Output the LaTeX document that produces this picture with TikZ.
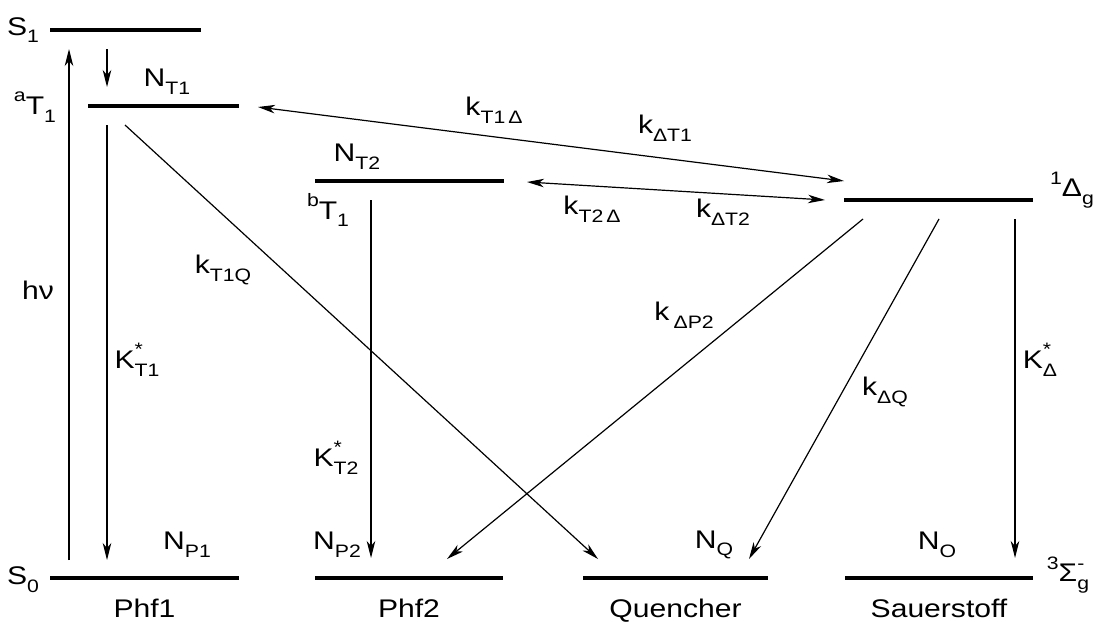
\documentclass[tikz,border=0pt]{standalone}
\usepackage{fontspec}
\setmainfont{Liberation Sans}[FakeStretch=1.18]
\usetikzlibrary{arrows.meta}
\newcommand\lo[1]{\raisebox{-0.3em}{\fontsize{18}{20}\selectfont #1}}
\newcommand\hi[1]{\raisebox{0.5em}{\fontsize{18}{20}\selectfont #1}}
\newcommand\hilo[2]{\rlap{\hi{#1}}\lo{#2}}
\begin{document}
\begin{tikzpicture}[x=1pt,y=-1pt,
  >={Stealth[length=17pt,width=8.5pt,inset=5pt]},
  lvl/.style={line width=4pt},
  conn/.style={line width=1.2pt},
  lab/.style={font=\fontsize{25.5}{30}\selectfont, inner sep=0pt},
]
\useasboundingbox (0,0) rectangle (1102,621);
% levels
\coordinate (S1a) at (50,30);   \coordinate (S1b) at (201,30);
\coordinate (T1a) at (88,106);  \coordinate (T1b) at (239,106);
\coordinate (T2a) at (315,181); \coordinate (T2b) at (504,181);
\coordinate (Da) at (844,200);  \coordinate (Db) at (1033,200);
\coordinate (P1a) at (50,578);  \coordinate (P1b) at (239,578);
\coordinate (P2a) at (315,578); \coordinate (P2b) at (503,578);
\coordinate (Qa) at (583,578);  \coordinate (Qb) at (768,578);
\coordinate (Oa) at (845,578);  \coordinate (Ob) at (1033,578);
\foreach \l in {S1,T1,T2,D,P1,P2,Q,O} \draw[lvl] (\l a) -- (\l b);
% arrow end points
\coordinate (hvA) at (69,560);   \coordinate (hvB) at (69,49);
\coordinate (icA) at (107,49);   \coordinate (icB) at (107,87);
\coordinate (kt1A) at (107,125); \coordinate (kt1B) at (107,560);
\coordinate (t1qA) at (125,125); \coordinate (t1qB) at (598,559);
\coordinate (kt2A) at (371,200); \coordinate (kt2B) at (371,558);
\coordinate (t1dA) at (258,107); \coordinate (t1dB) at (844,181);
\coordinate (t2dA) at (527,182); \coordinate (t2dB) at (825,200);
\coordinate (dp2A) at (863,219); \coordinate (dp2B) at (447,559);
\coordinate (dqA) at (939,219);  \coordinate (dqB) at (749,559);
\coordinate (kdA) at (1015,219); \coordinate (kdB) at (1015,558);
\draw[conn,->] (hvA) -- (hvB);
\draw[conn,->] (icA) -- (icB);
\draw[conn,->] (kt1A) -- (kt1B);
\draw[conn,->] (t1qA) -- (t1qB);
\draw[conn,->] (kt2A) -- (kt2B);
\draw[conn,<->] (t1dA) -- (t1dB);
\draw[conn,<->] (t2dA) -- (t2dB);
\draw[conn,->] (dp2A) -- (dp2B);
\draw[conn,->] (dqA) -- (dqB);
\draw[conn,->] (kdA) -- (kdB);
% labels
\node[lab] (lS1) at (23,30) {S\lo{1}};
\node[lab] (laT1) at (35,107) {\hi{a}T\lo{1}};
\node[lab] (lNT1) at (167,82) {N\lo{T1}};
\node[lab] (lhv) at (38,290) {hν};
\node[lab] (lKT1) at (137,360) {K\hilo{*}{T1}};
\node[lab] (lkT1Q) at (223,270) {k\lo{T1Q}};
\node[lab] (lbT1) at (328,210) {\hi{b}T\lo{1}};
\node[lab] (lNT2) at (357,157) {N\lo{T2}};
\node[lab] (lKT2) at (336,458) {K\hilo{*}{T2}};
\node[lab] (lkT1D) at (494,110) {k\lo{T1\,Δ}};
\node[lab] (lkDT1) at (665,128) {k\lo{ΔT1}};
\node[lab] (lkT2D) at (592,209) {k\lo{T2\,Δ}};
\node[lab] (lkDT2) at (723,212) {k\lo{ΔT2}};
\node[lab] (lDg) at (1072,190) {\hi{1}Δ\lo{g}};
\node[lab] (lkDP2) at (684,315) {k\,\lo{ΔP2}};
\node[lab] (lkDQ) at (885,392) {k\lo{ΔQ}};
\node[lab] (lKD) at (1040,360) {K\hilo{*}{Δ}};
\node[lab] (lNP1) at (187,545) {N\lo{P1}};
\node[lab] (lNP2) at (337,545) {N\lo{P2}};
\node[lab] (lNQ) at (714,545) {N\lo{Q}};
\node[lab] (lNO) at (937,545) {N\lo{O}};
\node[lab] (lS0) at (23,580) {S\lo{0}};
\node[lab] (lSg) at (1068,575) {\hi{3}Σ\hilo{-}{g}};
\node[lab,anchor=base] (lP1) at (144.5,617) {Phf1};
\node[lab,anchor=base] (lP2) at (409,617) {Phf2};
\node[lab,anchor=base] (lQ) at (675.5,617) {Quencher};
\node[lab,anchor=base] (lO) at (939,617) {Sauerstoff};
\end{tikzpicture}
\end{document}
